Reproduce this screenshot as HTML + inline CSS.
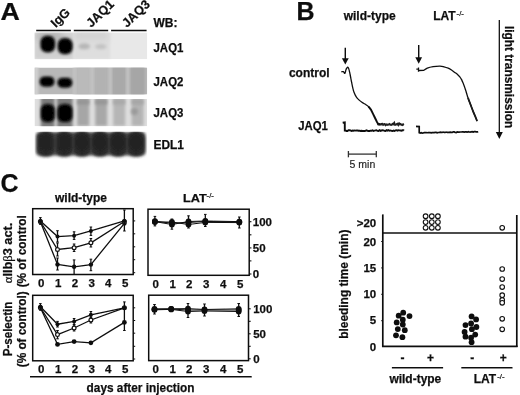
<!DOCTYPE html>
<html><head><meta charset="utf-8"><style>
html,body{margin:0;padding:0;background:#fff;}
svg{display:block;font-family:"Liberation Sans", sans-serif;will-change:transform;}
</style></head><body>
<svg width="520" height="395" viewBox="0 0 520 395">
<defs>
<filter id="bl1" x="-50%" y="-50%" width="200%" height="200%"><feGaussianBlur stdDeviation="1.6"/></filter>
<filter id="bl2" x="-50%" y="-50%" width="200%" height="200%"><feGaussianBlur stdDeviation="1.5"/></filter>
<filter id="soft" x="0" y="0" width="100%" height="100%" filterUnits="userSpaceOnUse"><feGaussianBlur stdDeviation="0.35"/></filter>
<filter id="bl3" x="-50%" y="-50%" width="200%" height="200%"><feGaussianBlur stdDeviation="3"/></filter>
<clipPath id="c1"><rect x="34.5" y="32.5" width="112.7" height="26.8"/></clipPath>
<clipPath id="c2"><rect x="34.5" y="67.5" width="112.7" height="27"/></clipPath>
<clipPath id="c3"><rect x="34.5" y="99" width="112.7" height="27.3"/></clipPath>
<clipPath id="c4"><rect x="34.5" y="131.7" width="112.7" height="27.5"/></clipPath>
</defs>
<rect width="520" height="395" fill="#fff"/>
<g filter="url(#soft)">
<text x="0" y="0" font-size="25" font-weight="bold" text-anchor="start" fill="#111" stroke="#111" stroke-width="0.25" transform="translate(0.6,19.6) scale(1.07,0.98)">A</text>
<text x="0" y="0" font-size="12.6" font-weight="bold" text-anchor="start" fill="#111" stroke="#111" stroke-width="0.25" transform="translate(55.8,28) rotate(-44)">IgG</text>
<text x="0" y="0" font-size="12.6" font-weight="bold" text-anchor="start" fill="#111" stroke="#111" stroke-width="0.25" transform="translate(91.2,28) rotate(-44)">JAQ1</text>
<text x="0" y="0" font-size="12.6" font-weight="bold" text-anchor="start" fill="#111" stroke="#111" stroke-width="0.25" transform="translate(127,28) rotate(-44)">JAQ3</text>
<line x1="36.2" y1="30.5" x2="70.9" y2="30.5" stroke="#111" stroke-width="1.3"/>
<line x1="73.8" y1="30.5" x2="108.2" y2="30.5" stroke="#111" stroke-width="1.3"/>
<line x1="111.1" y1="30.5" x2="146.6" y2="30.5" stroke="#111" stroke-width="1.3"/>
<g clip-path="url(#c1)">
<rect x="34.5" y="32.5" width="112.69999999999999" height="26.8" rx="0" fill="#e8e8e8" opacity="1"/>
<rect x="34.5" y="32.5" width="39" height="26.8" rx="0" fill="#d0d0d0" opacity="1" filter="url(#bl2)"/>
<rect x="74" y="32.5" width="36" height="26.8" rx="0" fill="#dedede" opacity="1" filter="url(#bl2)"/>
<rect x="74" y="31" width="34" height="9" rx="0" fill="#d2d2d2" opacity="1" filter="url(#bl3)"/>
<ellipse cx="50" cy="36" rx="14" ry="4" fill="#a8a8a8" opacity="0.8" filter="url(#bl3)"/>
<rect x="40.7" y="35.9" width="14.2" height="16.3" rx="6" fill="#111" opacity="1" filter="url(#bl1)"/>
<rect x="57.9" y="38.3" width="14.5" height="15.8" rx="6" fill="#111" opacity="1" filter="url(#bl1)"/>
<rect x="41.9" y="37.3" width="11.8" height="13.5" rx="5" fill="#000" opacity="1" filter="url(#bl2)"/>
<rect x="59.1" y="39.6" width="12" height="13.2" rx="5" fill="#000" opacity="1" filter="url(#bl2)"/>
<ellipse cx="84.2" cy="46.3" rx="6" ry="3" fill="#b6b6b6" opacity="1" filter="url(#bl2)"/>
<ellipse cx="100.8" cy="46.6" rx="5.8" ry="2.6" fill="#c2c2c2" opacity="1" filter="url(#bl2)"/>
</g>
<g clip-path="url(#c2)">
<rect x="34.5" y="67.5" width="112.69999999999999" height="27" rx="0" fill="#b8b8b8" opacity="1"/>
<rect x="34.5" y="64" width="3.5" height="34" rx="0" fill="#d6d6d6" opacity="1" filter="url(#bl2)"/>
<rect x="75.80000000000001" y="66" width="15.2" height="30" rx="0" fill="#bababa" opacity="1" filter="url(#bl2)"/>
<rect x="93.7" y="66" width="15.2" height="30" rx="0" fill="#b2b2b2" opacity="1" filter="url(#bl2)"/>
<rect x="111.4" y="66" width="15.2" height="30" rx="0" fill="#a9a9a9" opacity="1" filter="url(#bl2)"/>
<rect x="129.70000000000002" y="66" width="15.2" height="30" rx="0" fill="#a6a6a6" opacity="1" filter="url(#bl2)"/>
<rect x="73.39999999999999" y="66" width="2.4" height="30" rx="0" fill="#c8c8c8" opacity="1" filter="url(#bl2)"/>
<rect x="91.1" y="66" width="2.4" height="30" rx="0" fill="#c8c8c8" opacity="1" filter="url(#bl2)"/>
<rect x="109.1" y="66" width="2.4" height="30" rx="0" fill="#c8c8c8" opacity="1" filter="url(#bl2)"/>
<rect x="126.6" y="66" width="2.4" height="30" rx="0" fill="#c8c8c8" opacity="1" filter="url(#bl2)"/>
<rect x="39.8" y="76.8" width="14.4" height="9.6" rx="4.5" fill="#111" opacity="1" filter="url(#bl1)"/>
<rect x="57.6" y="78" width="14.5" height="9.4" rx="4.5" fill="#111" opacity="1" filter="url(#bl1)"/>
<rect x="41" y="78" width="12" height="7.2" rx="3.5" fill="#000" opacity="1" filter="url(#bl2)"/>
<rect x="58.8" y="79.2" width="12.1" height="7" rx="3.5" fill="#000" opacity="1" filter="url(#bl2)"/>
</g>
<g clip-path="url(#c3)">
<rect x="34.5" y="99" width="112.69999999999999" height="27.3" rx="0" fill="#dedede" opacity="1"/>
<rect x="40.8" y="97" width="13.8" height="31" rx="0" fill="#7c7c7c" opacity="1" filter="url(#bl2)"/>
<rect x="56.9" y="97" width="15.7" height="31" rx="0" fill="#7c7c7c" opacity="1" filter="url(#bl2)"/>
<rect x="77.2" y="98" width="12" height="28" rx="0" fill="#a6a6a6" opacity="1" filter="url(#bl2)"/>
<rect x="77.2" y="99.5" width="12" height="5" rx="0" fill="#949494" opacity="1" filter="url(#bl2)"/>
<rect x="95.2" y="98" width="12" height="28" rx="0" fill="#a8a8a8" opacity="1" filter="url(#bl2)"/>
<rect x="95.2" y="99.5" width="12" height="5" rx="0" fill="#969696" opacity="1" filter="url(#bl2)"/>
<rect x="113.2" y="98" width="12" height="28" rx="0" fill="#b6b6b6" opacity="1" filter="url(#bl2)"/>
<rect x="113.2" y="99.5" width="12" height="5" rx="0" fill="#a8a8a8" opacity="1" filter="url(#bl2)"/>
<rect x="131.6" y="98" width="12" height="28" rx="0" fill="#b4b4b4" opacity="1" filter="url(#bl2)"/>
<rect x="131.6" y="99.5" width="12" height="5" rx="0" fill="#a6a6a6" opacity="1" filter="url(#bl2)"/>
<ellipse cx="134.5" cy="111.5" rx="3.5" ry="3.5" fill="#9a9a9a" opacity="1" filter="url(#bl2)"/>
<rect x="41" y="104.2" width="13.6" height="17.8" rx="5.5" fill="#111" opacity="1" filter="url(#bl1)"/>
<rect x="57.6" y="104.2" width="14.6" height="17.8" rx="5.5" fill="#111" opacity="1" filter="url(#bl1)"/>
<rect x="42.2" y="105.6" width="11.2" height="15" rx="4.5" fill="#000" opacity="1" filter="url(#bl2)"/>
<rect x="58.8" y="105.6" width="12.2" height="15" rx="4.5" fill="#000" opacity="1" filter="url(#bl2)"/>
</g>
<g clip-path="url(#c4)">
<rect x="34.5" y="131.5" width="112.69999999999999" height="27" rx="0" fill="#fff" opacity="1"/>
<rect x="36" y="132" width="109.5" height="23.5" rx="4" fill="#4a4a4a" opacity="1" filter="url(#bl2)"/>
<rect x="37.4" y="131.6" width="16.8" height="25" rx="7" fill="#2c2c2c" opacity="1" filter="url(#bl2)"/>
<rect x="39.3" y="133.5" width="13" height="18" rx="5" fill="#222" opacity="1" filter="url(#bl2)"/>
<rect x="55.800000000000004" y="131.6" width="16.8" height="25" rx="7" fill="#2c2c2c" opacity="1" filter="url(#bl2)"/>
<rect x="57.7" y="133.5" width="13" height="18" rx="5" fill="#222" opacity="1" filter="url(#bl2)"/>
<rect x="73.6" y="131.6" width="16.8" height="25" rx="7" fill="#2c2c2c" opacity="1" filter="url(#bl2)"/>
<rect x="75.5" y="133.5" width="13" height="18" rx="5" fill="#222" opacity="1" filter="url(#bl2)"/>
<rect x="91.6" y="131.6" width="16.8" height="25" rx="7" fill="#2c2c2c" opacity="1" filter="url(#bl2)"/>
<rect x="93.5" y="133.5" width="13" height="18" rx="5" fill="#222" opacity="1" filter="url(#bl2)"/>
<rect x="109.6" y="131.6" width="16.8" height="25" rx="7" fill="#2c2c2c" opacity="1" filter="url(#bl2)"/>
<rect x="111.5" y="133.5" width="13" height="18" rx="5" fill="#222" opacity="1" filter="url(#bl2)"/>
<rect x="127.6" y="131.6" width="16.8" height="25" rx="7" fill="#2c2c2c" opacity="1" filter="url(#bl2)"/>
<rect x="129.5" y="133.5" width="13" height="18" rx="5" fill="#222" opacity="1" filter="url(#bl2)"/>
</g>
<text x="153.5" y="26.6" font-size="12" font-weight="bold" text-anchor="start" fill="#111" stroke="#111" stroke-width="0.25" >WB:</text>
<text x="153.5" y="51.5" font-size="12" font-weight="bold" text-anchor="start" fill="#111" stroke="#111" stroke-width="0.25" textLength="29.9" lengthAdjust="spacingAndGlyphs" >JAQ1</text>
<text x="153.5" y="86.2" font-size="12" font-weight="bold" text-anchor="start" fill="#111" stroke="#111" stroke-width="0.25" textLength="29.9" lengthAdjust="spacingAndGlyphs" >JAQ2</text>
<text x="153.5" y="117.2" font-size="12" font-weight="bold" text-anchor="start" fill="#111" stroke="#111" stroke-width="0.25" textLength="29.9" lengthAdjust="spacingAndGlyphs" >JAQ3</text>
<text x="153.5" y="149.1" font-size="12" font-weight="bold" text-anchor="start" fill="#111" stroke="#111" stroke-width="0.25" textLength="30.5" lengthAdjust="spacingAndGlyphs" >EDL1</text>
<text x="296.5" y="19.5" font-size="25" font-weight="bold" text-anchor="start" fill="#111" stroke="#111" stroke-width="0.25" >B</text>
<text x="343.7" y="20" font-size="12" font-weight="bold" text-anchor="start" fill="#111" stroke="#111" stroke-width="0.25" >wild-type</text>
<text x="433.2" y="20" font-size="12" font-weight="bold" text-anchor="start" fill="#111" stroke="#111" stroke-width="0.25" >LAT</text>
<text x="456.6" y="16.4" font-size="7.8" font-weight="normal" text-anchor="start" fill="#111" stroke="#111" stroke-width="0.2" >-/-</text>
<text x="288.9" y="76.9" font-size="12" font-weight="bold" text-anchor="start" fill="#111" stroke="#111" stroke-width="0.25" >control</text>
<text x="298.3" y="130" font-size="12" font-weight="bold" text-anchor="start" fill="#111" stroke="#111" stroke-width="0.25" textLength="29.6" lengthAdjust="spacingAndGlyphs" >JAQ1</text>
<line x1="499.3" y1="20" x2="499.3" y2="133" stroke="#111" stroke-width="1.3"/>
<polygon points="495.8,132 502.8,132 499.3,139" fill="#111"/>
<text x="0" y="0" font-size="12" font-weight="bold" text-anchor="start" fill="#111" stroke="#111" stroke-width="0.25" textLength="102.3" lengthAdjust="spacingAndGlyphs" transform="translate(504.8,25.9) rotate(90)">light transmission</text>
<line x1="345.3" y1="47.7" x2="345.3" y2="59.3" stroke="#111" stroke-width="1.4"/>
<polygon points="341.90000000000003,58.3 348.7,58.3 345.3,64.6" fill="#111"/>
<line x1="418.7" y1="45" x2="418.7" y2="58.3" stroke="#111" stroke-width="1.4"/>
<polygon points="415.3,57.3 422.09999999999997,57.3 418.7,63.7" fill="#111"/>
<path d="M341.30,71.80 C341.65,71.77 342.80,71.33 343.40,71.60 C344.00,71.87 344.47,73.73 344.90,73.40 C345.33,73.07 345.68,70.47 346.00,69.60 C346.32,68.73 346.53,68.62 346.80,68.20 C347.07,67.78 347.28,67.03 347.60,67.10 C347.92,67.17 348.32,67.53 348.70,68.60 C349.08,69.67 349.48,71.58 349.90,73.50 C350.32,75.42 350.77,77.90 351.20,80.10 C351.63,82.30 352.03,84.67 352.50,86.70 C352.97,88.73 353.40,90.65 354.00,92.30 C354.60,93.95 355.33,95.38 356.10,96.60 C356.87,97.82 357.63,98.65 358.60,99.60 C359.57,100.55 360.67,101.43 361.90,102.30 C363.13,103.17 364.90,104.08 366.00,104.80 C367.10,105.52 367.67,105.77 368.50,106.60 C369.33,107.43 370.58,109.27 371.00,109.80" fill="none" stroke="#111" stroke-width="1.3"/>
<path d="M377.5,123.9 L378.3,124.5 L379.1,124.2 L379.9,124.6 L380.7,124.6 L381.5,123.6 L382.3,123.5 L383.1,125.0 L383.9,124.0 L384.7,123.9 L385.5,125.3 L386.3,124.3 L387.1,125.0 L387.9,124.4 L388.7,124.7 L389.5,123.8 L390.3,124.6 L391.1,125.1 L391.9,124.4 L392.7,123.5 L393.5,123.4 L394.3,122.3 L395.1,124.9 L395.9,124.6 L396.7,124.0 L397.5,123.6 L398.3,125.1 L399.1,123.1 L399.9,123.5 L400.7,123.8 L401.5,124.8 L402.3,125.2 L403.1,124.2 L403.9,124.9" fill="none" stroke="#1a1a1a" stroke-width="1.5"/>
<path d="M377.5,124.6 L404,124.6" fill="none" stroke="#222" stroke-width="1.6"/>
<path d="M368.50,106.60 C368.92,107.13 370.18,108.45 371.00,109.80 C371.82,111.15 372.58,113.05 373.40,114.70 C374.22,116.35 375.17,118.27 375.90,119.70 C376.63,121.13 377.03,122.52 377.80,123.30 C378.57,124.08 380.05,124.22 380.50,124.40" fill="none" stroke="#111" stroke-width="1.9"/>
<path d="M342.7,122.7 L344.8,122.3 L344.8,130.6 L345.5,130.55 L346.5,130.99 L347.5,130.94 L348.5,130.24 L349.5,130.27 L350.5,130.35 L351.5,131.02 L352.5,130.54 L353.5,130.71 L354.5,130.42 L355.5,130.61 L356.5,130.50 L357.5,130.47 L358.5,130.68 L359.5,130.68 L360.5,130.96 L361.5,130.76 L362.5,130.99 L363.5,130.92 L364.5,131.04 L365.5,130.75 L366.5,130.30 L367.5,130.92 L368.5,131.02 L369.5,130.96 L370.5,130.66 L371.5,130.79 L372.5,130.34 L373.5,130.90 L374.5,130.67 L375.5,130.41 L376.5,130.21 L377.5,130.92 L378.5,131.04 L379.5,130.23 L380.5,130.87 L381.5,130.52 L382.5,130.29 L383.5,130.41 L384.5,130.84 L385.5,130.94 L386.5,130.19 L387.5,130.70 L388.5,130.19 L389.5,130.80 L390.5,130.45 L391.5,130.94 L392.5,131.03 L393.5,130.60 L394.5,131.05 L395.5,130.43 L396.5,130.22 L397.5,130.69 L398.5,130.18 L399.5,130.33 L400.5,130.52 L401.5,130.70 L402.5,130.29 L403.5,130.19 L403.9,130.6" fill="none" stroke="#111" stroke-width="1.9"/>
<path d="M416.3,69.2 L418.5,69.2 M418.5,67.4 L418.5,71.8 M418.5,70.5 L423.6,70.4 C424.22,70.02 425.72,68.73 427.30,68.10 C428.88,67.47 430.98,66.93 433.10,66.60 C435.22,66.27 438.18,66.07 440.00,66.10 C441.82,66.13 442.63,66.45 444.00,66.80 C445.37,67.15 446.95,67.67 448.20,68.20 C449.45,68.73 450.40,69.30 451.50,70.00 C452.60,70.70 453.80,71.67 454.80,72.40 C455.80,73.13 456.67,73.67 457.50,74.40 C458.33,75.13 459.12,75.93 459.80,76.80 C460.48,77.67 461.05,78.55 461.60,79.60 C462.15,80.65 462.45,81.42 463.10,83.10 C463.75,84.78 464.68,87.23 465.50,89.70 C466.32,92.17 467.17,95.43 468.00,97.90 C468.83,100.37 469.67,102.30 470.50,104.50 C471.33,106.70 472.18,109.05 473.00,111.10 C473.82,113.15 474.72,115.12 475.40,116.80 C476.08,118.48 476.82,120.47 477.10,121.20" fill="none" stroke="#111" stroke-width="1.3"/>
<path d="M416,126.4 L419.2,126.6 L419.2,132.7 L420.2,133.05 L421.2,132.64 L422.2,133.07 L423.2,133.01 L424.2,132.63 L425.2,132.67 L426.2,132.70 L427.2,132.77 L428.2,132.72 L429.2,132.68 L430.2,132.70 L431.2,132.91 L432.2,132.59 L433.2,132.52 L434.2,132.70 L435.2,132.35 L436.2,132.38 L437.2,132.83 L438.2,132.50 L439.2,132.50 L440.2,132.10 L441.2,132.37 L442.2,132.47 L443.2,132.06 L444.2,132.46 L445.2,132.45 L446.2,132.04 L447.2,132.42 L448.2,132.29 L449.2,132.42 L450.2,132.17 L451.2,132.40 L452.2,132.41 L453.2,131.89 L454.2,131.90 L455.2,132.31 L456.2,132.50 L457.2,131.98 L458.2,132.11 L459.2,132.19 L460.2,131.98 L461.2,131.99 L462.2,131.94 L463.2,131.96 L464.2,132.10 L465.2,131.88 L466.2,131.92 L467.2,132.18 L468.2,131.64 L469.2,132.00 L470.2,132.10 L471.2,131.78 L472.2,131.70 L473.2,132.09 L474.2,131.68 L475.2,131.63 L476.2,131.79 L477.2,131.95 L478.2,131.8" fill="none" stroke="#111" stroke-width="1.7"/>
<path d="M468.00,97.90 C468.42,99.00 469.67,102.30 470.50,104.50 C471.33,106.70 472.18,109.05 473.00,111.10 C473.82,113.15 474.72,115.15 475.40,116.80 C476.08,118.45 476.82,120.30 477.10,121.00" fill="none" stroke="#1a1a1a" stroke-width="1.8"/>
<line x1="348.4" y1="151" x2="348.4" y2="157.3" stroke="#333" stroke-width="1.3"/>
<line x1="376.3" y1="151" x2="376.3" y2="157.3" stroke="#333" stroke-width="1.3"/>
<line x1="348.4" y1="154.1" x2="376.3" y2="154.1" stroke="#333" stroke-width="1.3"/>
<text x="349.6" y="168.3" font-size="10.5" font-weight="normal" text-anchor="start" fill="#222" stroke="#222" stroke-width="0.15" >5 min</text>
<text x="0.5" y="191.5" font-size="25" font-weight="bold" text-anchor="start" fill="#111" stroke="#111" stroke-width="0.25" >C</text>
<text x="55" y="202.3" font-size="12" font-weight="bold" text-anchor="start" fill="#111" stroke="#111" stroke-width="0.25" >wild-type</text>
<text x="183.1" y="201.5" font-size="11.6" font-weight="bold" text-anchor="start" fill="#111" stroke="#111" stroke-width="0.25" textLength="23.8" lengthAdjust="spacingAndGlyphs" >LAT</text>
<text x="206.6" y="197.8" font-size="7.8" font-weight="normal" text-anchor="start" fill="#111" stroke="#111" stroke-width="0.2" >-/-</text>
<rect x="32.7" y="208.7" width="100.49999999999999" height="65.80000000000001" fill="none" stroke="#111" stroke-width="1.5"/>
<line x1="133.2" y1="220.9" x2="135.2" y2="220.9" stroke="#111" stroke-width="1.0"/>
<line x1="133.2" y1="233.8" x2="135.2" y2="233.8" stroke="#111" stroke-width="1.0"/>
<line x1="133.2" y1="246.8" x2="135.2" y2="246.8" stroke="#111" stroke-width="1.0"/>
<line x1="133.2" y1="259.7" x2="135.2" y2="259.7" stroke="#111" stroke-width="1.0"/>
<line x1="133.2" y1="272.7" x2="135.2" y2="272.7" stroke="#111" stroke-width="1.0"/>
<rect x="148" y="209.2" width="101.19999999999999" height="66.10000000000002" fill="none" stroke="#111" stroke-width="1.5"/>
<line x1="249.2" y1="221.7" x2="251.4" y2="221.7" stroke="#111" stroke-width="1.1"/>
<line x1="249.2" y1="234.8" x2="251.4" y2="234.8" stroke="#111" stroke-width="1.1"/>
<line x1="249.2" y1="247.9" x2="251.4" y2="247.9" stroke="#111" stroke-width="1.1"/>
<line x1="249.2" y1="260.9" x2="251.4" y2="260.9" stroke="#111" stroke-width="1.1"/>
<line x1="249.2" y1="274.0" x2="251.4" y2="274.0" stroke="#111" stroke-width="1.1"/>
<rect x="32.7" y="295.3" width="100.49999999999999" height="65.5" fill="none" stroke="#111" stroke-width="1.5"/>
<line x1="133.2" y1="307.8" x2="135.2" y2="307.8" stroke="#111" stroke-width="1.0"/>
<line x1="133.2" y1="320.5" x2="135.2" y2="320.5" stroke="#111" stroke-width="1.0"/>
<line x1="133.2" y1="333.2" x2="135.2" y2="333.2" stroke="#111" stroke-width="1.0"/>
<line x1="133.2" y1="346.3" x2="135.2" y2="346.3" stroke="#111" stroke-width="1.0"/>
<line x1="133.2" y1="359" x2="135.2" y2="359" stroke="#111" stroke-width="1.0"/>
<rect x="148.7" y="295.2" width="99.80000000000001" height="65.40000000000003" fill="none" stroke="#111" stroke-width="1.5"/>
<line x1="248.5" y1="308.8" x2="250.7" y2="308.8" stroke="#111" stroke-width="1.1"/>
<line x1="248.5" y1="321.3" x2="250.7" y2="321.3" stroke="#111" stroke-width="1.1"/>
<line x1="248.5" y1="333.8" x2="250.7" y2="333.8" stroke="#111" stroke-width="1.1"/>
<line x1="248.5" y1="346.3" x2="250.7" y2="346.3" stroke="#111" stroke-width="1.1"/>
<line x1="248.5" y1="358.8" x2="250.7" y2="358.8" stroke="#111" stroke-width="1.1"/>
<path d="M40.4,221.8 L57.5,264.5 L74.1,266.8 L90.9,264.6 L124.4,223.4" fill="none" stroke="#111" stroke-width="1.3"/>
<line x1="57.5" y1="258" x2="57.5" y2="270" stroke="#111" stroke-width="1.3"/>
<line x1="56.2" y1="258" x2="58.8" y2="258" stroke="#111" stroke-width="1.0"/>
<line x1="56.2" y1="270" x2="58.8" y2="270" stroke="#111" stroke-width="1.0"/>
<line x1="74.1" y1="259.9" x2="74.1" y2="274.5" stroke="#111" stroke-width="1.3"/>
<line x1="72.8" y1="259.9" x2="75.39999999999999" y2="259.9" stroke="#111" stroke-width="1.0"/>
<line x1="72.8" y1="274.5" x2="75.39999999999999" y2="274.5" stroke="#111" stroke-width="1.0"/>
<line x1="90.9" y1="259.2" x2="90.9" y2="270.7" stroke="#111" stroke-width="1.3"/>
<line x1="89.60000000000001" y1="259.2" x2="92.2" y2="259.2" stroke="#111" stroke-width="1.0"/>
<line x1="89.60000000000001" y1="270.7" x2="92.2" y2="270.7" stroke="#111" stroke-width="1.0"/>
<circle cx="40.4" cy="221.8" r="2.2" fill="#111"/>
<circle cx="57.5" cy="264.5" r="2.2" fill="#111"/>
<circle cx="74.1" cy="266.8" r="2.2" fill="#111"/>
<circle cx="90.9" cy="264.6" r="2.2" fill="#111"/>
<circle cx="124.4" cy="223.4" r="2.2" fill="#111"/>
<path d="M40.4,221.5 L57.5,249.5 L74.1,247.7 L90.9,242.8 L124.4,221.5" fill="none" stroke="#111" stroke-width="1.3"/>
<line x1="57.5" y1="243" x2="57.5" y2="256" stroke="#111" stroke-width="1.3"/>
<line x1="56.2" y1="243" x2="58.8" y2="243" stroke="#111" stroke-width="1.0"/>
<line x1="56.2" y1="256" x2="58.8" y2="256" stroke="#111" stroke-width="1.0"/>
<line x1="74.1" y1="244" x2="74.1" y2="251.5" stroke="#111" stroke-width="1.3"/>
<line x1="72.8" y1="244" x2="75.39999999999999" y2="244" stroke="#111" stroke-width="1.0"/>
<line x1="72.8" y1="251.5" x2="75.39999999999999" y2="251.5" stroke="#111" stroke-width="1.0"/>
<line x1="90.9" y1="238.5" x2="90.9" y2="247" stroke="#111" stroke-width="1.3"/>
<line x1="89.60000000000001" y1="238.5" x2="92.2" y2="238.5" stroke="#111" stroke-width="1.0"/>
<line x1="89.60000000000001" y1="247" x2="92.2" y2="247" stroke="#111" stroke-width="1.0"/>
<circle cx="40.4" cy="221.5" r="1.9" fill="#fff" stroke="#111" stroke-width="1.2"/>
<circle cx="57.5" cy="249.5" r="1.9" fill="#fff" stroke="#111" stroke-width="1.2"/>
<circle cx="74.1" cy="247.7" r="1.9" fill="#fff" stroke="#111" stroke-width="1.2"/>
<circle cx="90.9" cy="242.8" r="1.9" fill="#fff" stroke="#111" stroke-width="1.2"/>
<circle cx="124.4" cy="221.5" r="1.9" fill="#fff" stroke="#111" stroke-width="1.2"/>
<path d="M40.4,220.9 L57.5,236.6 L74.1,235.7 L90.9,230.9 L124.4,220.9" fill="none" stroke="#111" stroke-width="1.3"/>
<line x1="40.4" y1="217.6" x2="40.4" y2="224.4" stroke="#111" stroke-width="1.3"/>
<line x1="39.1" y1="217.6" x2="41.699999999999996" y2="217.6" stroke="#111" stroke-width="1.0"/>
<line x1="39.1" y1="224.4" x2="41.699999999999996" y2="224.4" stroke="#111" stroke-width="1.0"/>
<line x1="57.5" y1="230.7" x2="57.5" y2="242" stroke="#111" stroke-width="1.3"/>
<line x1="56.2" y1="230.7" x2="58.8" y2="230.7" stroke="#111" stroke-width="1.0"/>
<line x1="56.2" y1="242" x2="58.8" y2="242" stroke="#111" stroke-width="1.0"/>
<line x1="74.1" y1="231.8" x2="74.1" y2="239.4" stroke="#111" stroke-width="1.3"/>
<line x1="72.8" y1="231.8" x2="75.39999999999999" y2="231.8" stroke="#111" stroke-width="1.0"/>
<line x1="72.8" y1="239.4" x2="75.39999999999999" y2="239.4" stroke="#111" stroke-width="1.0"/>
<line x1="90.9" y1="227" x2="90.9" y2="235.4" stroke="#111" stroke-width="1.3"/>
<line x1="89.60000000000001" y1="227" x2="92.2" y2="227" stroke="#111" stroke-width="1.0"/>
<line x1="89.60000000000001" y1="235.4" x2="92.2" y2="235.4" stroke="#111" stroke-width="1.0"/>
<line x1="124.4" y1="210" x2="124.4" y2="231" stroke="#111" stroke-width="1.3"/>
<line x1="123.10000000000001" y1="210" x2="125.7" y2="210" stroke="#111" stroke-width="1.0"/>
<line x1="123.10000000000001" y1="231" x2="125.7" y2="231" stroke="#111" stroke-width="1.0"/>
<circle cx="40.4" cy="220.9" r="2.0" fill="#111"/>
<circle cx="57.5" cy="236.6" r="2.0" fill="#111"/>
<circle cx="74.1" cy="235.7" r="2.0" fill="#111"/>
<circle cx="90.9" cy="230.9" r="2.0" fill="#111"/>
<circle cx="124.4" cy="220.9" r="2.0" fill="#111"/>
<path d="M40.4,307.8 L57.5,344.4 L74.1,341.6 L90.9,342.8 L124.4,322.4" fill="none" stroke="#111" stroke-width="1.3"/>
<line x1="124.4" y1="301.9" x2="124.4" y2="330.5" stroke="#111" stroke-width="1.3"/>
<line x1="123.10000000000001" y1="301.9" x2="125.7" y2="301.9" stroke="#111" stroke-width="1.0"/>
<line x1="123.10000000000001" y1="330.5" x2="125.7" y2="330.5" stroke="#111" stroke-width="1.0"/>
<circle cx="40.4" cy="307.8" r="2.4" fill="#111"/>
<circle cx="57.5" cy="344.4" r="2.4" fill="#111"/>
<circle cx="74.1" cy="341.6" r="2.4" fill="#111"/>
<circle cx="90.9" cy="342.8" r="2.4" fill="#111"/>
<circle cx="124.4" cy="322.4" r="2.4" fill="#111"/>
<path d="M40.4,307.5 L57.5,334.6 L74.1,328 L90.9,320 L124.4,307.8" fill="none" stroke="#111" stroke-width="1.3"/>
<line x1="57.5" y1="330.5" x2="57.5" y2="338.8" stroke="#111" stroke-width="1.3"/>
<line x1="56.2" y1="330.5" x2="58.8" y2="330.5" stroke="#111" stroke-width="1.0"/>
<line x1="56.2" y1="338.8" x2="58.8" y2="338.8" stroke="#111" stroke-width="1.0"/>
<line x1="74.1" y1="325" x2="74.1" y2="331" stroke="#111" stroke-width="1.3"/>
<line x1="72.8" y1="325" x2="75.39999999999999" y2="325" stroke="#111" stroke-width="1.0"/>
<line x1="72.8" y1="331" x2="75.39999999999999" y2="331" stroke="#111" stroke-width="1.0"/>
<line x1="90.9" y1="317" x2="90.9" y2="323" stroke="#111" stroke-width="1.3"/>
<line x1="89.60000000000001" y1="317" x2="92.2" y2="317" stroke="#111" stroke-width="1.0"/>
<line x1="89.60000000000001" y1="323" x2="92.2" y2="323" stroke="#111" stroke-width="1.0"/>
<circle cx="40.4" cy="307.5" r="1.9" fill="#fff" stroke="#111" stroke-width="1.2"/>
<circle cx="57.5" cy="334.6" r="1.9" fill="#fff" stroke="#111" stroke-width="1.2"/>
<circle cx="74.1" cy="328" r="1.9" fill="#fff" stroke="#111" stroke-width="1.2"/>
<circle cx="90.9" cy="320" r="1.9" fill="#fff" stroke="#111" stroke-width="1.2"/>
<circle cx="124.4" cy="307.8" r="1.9" fill="#fff" stroke="#111" stroke-width="1.2"/>
<path d="M40.4,306.8 L57.5,324.2 L74.1,321.4 L90.9,314.8 L124.4,307.8" fill="none" stroke="#111" stroke-width="1.3"/>
<line x1="40.4" y1="303.6" x2="40.4" y2="310.3" stroke="#111" stroke-width="1.3"/>
<line x1="39.1" y1="303.6" x2="41.699999999999996" y2="303.6" stroke="#111" stroke-width="1.0"/>
<line x1="39.1" y1="310.3" x2="41.699999999999996" y2="310.3" stroke="#111" stroke-width="1.0"/>
<line x1="57.5" y1="321.4" x2="57.5" y2="327" stroke="#111" stroke-width="1.3"/>
<line x1="56.2" y1="321.4" x2="58.8" y2="321.4" stroke="#111" stroke-width="1.0"/>
<line x1="56.2" y1="327" x2="58.8" y2="327" stroke="#111" stroke-width="1.0"/>
<line x1="74.1" y1="318.5" x2="74.1" y2="324.5" stroke="#111" stroke-width="1.3"/>
<line x1="72.8" y1="318.5" x2="75.39999999999999" y2="318.5" stroke="#111" stroke-width="1.0"/>
<line x1="72.8" y1="324.5" x2="75.39999999999999" y2="324.5" stroke="#111" stroke-width="1.0"/>
<line x1="90.9" y1="311.5" x2="90.9" y2="318" stroke="#111" stroke-width="1.3"/>
<line x1="89.60000000000001" y1="311.5" x2="92.2" y2="311.5" stroke="#111" stroke-width="1.0"/>
<line x1="89.60000000000001" y1="318" x2="92.2" y2="318" stroke="#111" stroke-width="1.0"/>
<circle cx="40.4" cy="306.8" r="2.0" fill="#111"/>
<circle cx="57.5" cy="324.2" r="2.0" fill="#111"/>
<circle cx="74.1" cy="321.4" r="2.0" fill="#111"/>
<circle cx="90.9" cy="314.8" r="2.0" fill="#111"/>
<circle cx="124.4" cy="307.8" r="2.0" fill="#111"/>
<path d="M154.9,221.2 L171.9,223.2 L188.5,222.5 L205.3,221.4 L239.3,222.1" fill="none" stroke="#111" stroke-width="1.0"/>
<line x1="154.9" y1="216.4" x2="154.9" y2="225.9" stroke="#111" stroke-width="1.3"/>
<line x1="153.6" y1="216.4" x2="156.20000000000002" y2="216.4" stroke="#111" stroke-width="1.0"/>
<line x1="153.6" y1="225.9" x2="156.20000000000002" y2="225.9" stroke="#111" stroke-width="1.0"/>
<line x1="171.9" y1="219" x2="171.9" y2="229.2" stroke="#111" stroke-width="1.3"/>
<line x1="170.6" y1="219" x2="173.20000000000002" y2="219" stroke="#111" stroke-width="1.0"/>
<line x1="170.6" y1="229.2" x2="173.20000000000002" y2="229.2" stroke="#111" stroke-width="1.0"/>
<line x1="188.5" y1="215.8" x2="188.5" y2="228" stroke="#111" stroke-width="1.3"/>
<line x1="187.2" y1="215.8" x2="189.8" y2="215.8" stroke="#111" stroke-width="1.0"/>
<line x1="187.2" y1="228" x2="189.8" y2="228" stroke="#111" stroke-width="1.0"/>
<line x1="205.3" y1="214.4" x2="205.3" y2="226.5" stroke="#111" stroke-width="1.3"/>
<line x1="204.0" y1="214.4" x2="206.60000000000002" y2="214.4" stroke="#111" stroke-width="1.0"/>
<line x1="204.0" y1="226.5" x2="206.60000000000002" y2="226.5" stroke="#111" stroke-width="1.0"/>
<line x1="239.3" y1="217" x2="239.3" y2="228" stroke="#111" stroke-width="1.3"/>
<line x1="238.0" y1="217" x2="240.60000000000002" y2="217" stroke="#111" stroke-width="1.0"/>
<line x1="238.0" y1="228" x2="240.60000000000002" y2="228" stroke="#111" stroke-width="1.0"/>
<circle cx="154.9" cy="221.2" r="2.9" fill="#111"/>
<circle cx="171.9" cy="223.2" r="2.9" fill="#111"/>
<circle cx="188.5" cy="222.5" r="2.9" fill="#111"/>
<circle cx="205.3" cy="221.4" r="2.9" fill="#111"/>
<circle cx="239.3" cy="222.1" r="2.9" fill="#111"/>
<path d="M154.9,222.0 L171.9,222.0 L188.5,224.5 L205.3,222.4 L239.3,222.6" fill="none" stroke="#111" stroke-width="1.0"/>
<circle cx="154.9" cy="222.0" r="2.9" fill="#111"/>
<circle cx="171.9" cy="222.0" r="2.9" fill="#111"/>
<circle cx="188.5" cy="224.5" r="2.9" fill="#111"/>
<circle cx="205.3" cy="222.4" r="2.9" fill="#111"/>
<circle cx="239.3" cy="222.6" r="2.9" fill="#111"/>
<path d="M154.9,221.6 L171.9,224.5 L188.5,221.5 L205.3,221.0 L239.3,221.6" fill="none" stroke="#111" stroke-width="1.0"/>
<circle cx="154.9" cy="221.6" r="2.9" fill="#111"/>
<circle cx="171.9" cy="224.5" r="2.9" fill="#111"/>
<circle cx="188.5" cy="221.5" r="2.9" fill="#111"/>
<circle cx="205.3" cy="221.0" r="2.9" fill="#111"/>
<circle cx="239.3" cy="221.6" r="2.9" fill="#111"/>
<path d="M154.5,309.3 L171.20000000000002,309 L188.0,310 L204.5,310 L238.70000000000002,310" fill="none" stroke="#111" stroke-width="1.0"/>
<line x1="154.5" y1="304.5" x2="154.5" y2="314" stroke="#111" stroke-width="1.3"/>
<line x1="153.2" y1="304.5" x2="155.8" y2="304.5" stroke="#111" stroke-width="1.0"/>
<line x1="153.2" y1="314" x2="155.8" y2="314" stroke="#111" stroke-width="1.0"/>
<line x1="188.0" y1="303.5" x2="188.0" y2="317.5" stroke="#111" stroke-width="1.3"/>
<line x1="186.7" y1="303.5" x2="189.3" y2="303.5" stroke="#111" stroke-width="1.0"/>
<line x1="186.7" y1="317.5" x2="189.3" y2="317.5" stroke="#111" stroke-width="1.0"/>
<line x1="204.5" y1="304" x2="204.5" y2="316" stroke="#111" stroke-width="1.3"/>
<line x1="203.2" y1="304" x2="205.8" y2="304" stroke="#111" stroke-width="1.0"/>
<line x1="203.2" y1="316" x2="205.8" y2="316" stroke="#111" stroke-width="1.0"/>
<line x1="238.70000000000002" y1="303.5" x2="238.70000000000002" y2="316.5" stroke="#111" stroke-width="1.3"/>
<line x1="237.4" y1="303.5" x2="240.00000000000003" y2="303.5" stroke="#111" stroke-width="1.0"/>
<line x1="237.4" y1="316.5" x2="240.00000000000003" y2="316.5" stroke="#111" stroke-width="1.0"/>
<circle cx="154.5" cy="309.3" r="2.9" fill="#111"/>
<circle cx="171.20000000000002" cy="309" r="2.9" fill="#111"/>
<circle cx="188.0" cy="310" r="2.9" fill="#111"/>
<circle cx="204.5" cy="310" r="2.9" fill="#111"/>
<circle cx="238.70000000000002" cy="310" r="2.9" fill="#111"/>
<path d="M154.5,309.8 L171.20000000000002,309.4 L188.0,311.5 L204.5,311 L238.70000000000002,311.5" fill="none" stroke="#111" stroke-width="1.0"/>
<circle cx="154.5" cy="309.8" r="2.9" fill="#111"/>
<circle cx="171.20000000000002" cy="309.4" r="2.9" fill="#111"/>
<circle cx="188.0" cy="311.5" r="2.9" fill="#111"/>
<circle cx="204.5" cy="311" r="2.9" fill="#111"/>
<circle cx="238.70000000000002" cy="311.5" r="2.9" fill="#111"/>
<path d="M154.5,308.9 L171.20000000000002,308.8 L188.0,308.6 L204.5,309.5 L238.70000000000002,308.8" fill="none" stroke="#111" stroke-width="1.0"/>
<circle cx="154.5" cy="308.9" r="2.9" fill="#111"/>
<circle cx="171.20000000000002" cy="308.8" r="2.9" fill="#111"/>
<circle cx="188.0" cy="308.6" r="2.9" fill="#111"/>
<circle cx="204.5" cy="309.5" r="2.9" fill="#111"/>
<circle cx="238.70000000000002" cy="308.8" r="2.9" fill="#111"/>
<text x="41.199999999999996" y="287.3" font-size="11.5" font-weight="bold" text-anchor="middle" fill="#111" stroke="#111" stroke-width="0.25" >0</text>
<text x="155.70000000000002" y="287.8" font-size="11.5" font-weight="bold" text-anchor="middle" fill="#111" stroke="#111" stroke-width="0.25" >0</text>
<text x="41.199999999999996" y="373" font-size="11.5" font-weight="bold" text-anchor="middle" fill="#111" stroke="#111" stroke-width="0.25" >0</text>
<text x="155.70000000000002" y="373" font-size="11.5" font-weight="bold" text-anchor="middle" fill="#111" stroke="#111" stroke-width="0.25" >0</text>
<text x="58.3" y="287.3" font-size="11.5" font-weight="bold" text-anchor="middle" fill="#111" stroke="#111" stroke-width="0.25" >1</text>
<text x="172.70000000000002" y="287.8" font-size="11.5" font-weight="bold" text-anchor="middle" fill="#111" stroke="#111" stroke-width="0.25" >1</text>
<text x="58.3" y="373" font-size="11.5" font-weight="bold" text-anchor="middle" fill="#111" stroke="#111" stroke-width="0.25" >1</text>
<text x="172.70000000000002" y="373" font-size="11.5" font-weight="bold" text-anchor="middle" fill="#111" stroke="#111" stroke-width="0.25" >1</text>
<text x="74.89999999999999" y="287.3" font-size="11.5" font-weight="bold" text-anchor="middle" fill="#111" stroke="#111" stroke-width="0.25" >2</text>
<text x="189.3" y="287.8" font-size="11.5" font-weight="bold" text-anchor="middle" fill="#111" stroke="#111" stroke-width="0.25" >2</text>
<text x="74.89999999999999" y="373" font-size="11.5" font-weight="bold" text-anchor="middle" fill="#111" stroke="#111" stroke-width="0.25" >2</text>
<text x="189.3" y="373" font-size="11.5" font-weight="bold" text-anchor="middle" fill="#111" stroke="#111" stroke-width="0.25" >2</text>
<text x="91.7" y="287.3" font-size="11.5" font-weight="bold" text-anchor="middle" fill="#111" stroke="#111" stroke-width="0.25" >3</text>
<text x="206.10000000000002" y="287.8" font-size="11.5" font-weight="bold" text-anchor="middle" fill="#111" stroke="#111" stroke-width="0.25" >3</text>
<text x="91.7" y="373" font-size="11.5" font-weight="bold" text-anchor="middle" fill="#111" stroke="#111" stroke-width="0.25" >3</text>
<text x="206.10000000000002" y="373" font-size="11.5" font-weight="bold" text-anchor="middle" fill="#111" stroke="#111" stroke-width="0.25" >3</text>
<text x="108.3" y="287.3" font-size="11.5" font-weight="bold" text-anchor="middle" fill="#111" stroke="#111" stroke-width="0.25" >4</text>
<text x="223.10000000000002" y="287.8" font-size="11.5" font-weight="bold" text-anchor="middle" fill="#111" stroke="#111" stroke-width="0.25" >4</text>
<text x="108.3" y="373" font-size="11.5" font-weight="bold" text-anchor="middle" fill="#111" stroke="#111" stroke-width="0.25" >4</text>
<text x="223.10000000000002" y="373" font-size="11.5" font-weight="bold" text-anchor="middle" fill="#111" stroke="#111" stroke-width="0.25" >4</text>
<text x="125.2" y="287.3" font-size="11.5" font-weight="bold" text-anchor="middle" fill="#111" stroke="#111" stroke-width="0.25" >5</text>
<text x="240.10000000000002" y="287.8" font-size="11.5" font-weight="bold" text-anchor="middle" fill="#111" stroke="#111" stroke-width="0.25" >5</text>
<text x="125.2" y="373" font-size="11.5" font-weight="bold" text-anchor="middle" fill="#111" stroke="#111" stroke-width="0.25" >5</text>
<text x="240.10000000000002" y="373" font-size="11.5" font-weight="bold" text-anchor="middle" fill="#111" stroke="#111" stroke-width="0.25" >5</text>
<text x="252.8" y="226.2" font-size="11.5" font-weight="bold" text-anchor="start" fill="#111" stroke="#111" stroke-width="0.25" >100</text>
<text x="252.8" y="251.8" font-size="11.5" font-weight="bold" text-anchor="start" fill="#111" stroke="#111" stroke-width="0.25" >50</text>
<text x="252.8" y="278.3" font-size="11.5" font-weight="bold" text-anchor="start" fill="#111" stroke="#111" stroke-width="0.25" >0</text>
<text x="253.2" y="313.2" font-size="11.5" font-weight="bold" text-anchor="start" fill="#111" stroke="#111" stroke-width="0.25" >100</text>
<text x="253.2" y="338.2" font-size="11.5" font-weight="bold" text-anchor="start" fill="#111" stroke="#111" stroke-width="0.25" >50</text>
<text x="253.2" y="363.2" font-size="11.5" font-weight="bold" text-anchor="start" fill="#111" stroke="#111" stroke-width="0.25" >0</text>
<line x1="30" y1="376.8" x2="251.7" y2="376.8" stroke="#111" stroke-width="1.4"/>
<text x="86.6" y="391.5" font-size="12" font-weight="bold" text-anchor="start" fill="#111" stroke="#111" stroke-width="0.25" textLength="107.8" lengthAdjust="spacingAndGlyphs" >days after injection</text>
<text x="0" y="0" font-size="12" font-weight="bold" text-anchor="start" fill="#111" stroke="#111" stroke-width="0.25" textLength="60.5" lengthAdjust="spacingAndGlyphs" transform="translate(12.3,283.2) rotate(-90)"><tspan font-family="Liberation Serif" font-weight="normal">α</tspan>IIb<tspan font-family="Liberation Serif" font-weight="normal">β</tspan>3 act.</text>
<text x="0" y="0" font-size="12" font-weight="bold" text-anchor="start" fill="#111" stroke="#111" stroke-width="0.25" textLength="72" lengthAdjust="spacingAndGlyphs" transform="translate(25.5,287.3) rotate(-90)">(% of control</text>
<text x="0" y="0" font-size="12" font-weight="bold" text-anchor="start" fill="#111" stroke="#111" stroke-width="0.25" textLength="54.5" lengthAdjust="spacingAndGlyphs" transform="translate(11.6,356.2) rotate(-90)">P-selectin</text>
<text x="0" y="0" font-size="12" font-weight="bold" text-anchor="start" fill="#111" stroke="#111" stroke-width="0.25" textLength="76" lengthAdjust="spacingAndGlyphs" transform="translate(25.5,367.3) rotate(-90)">(% of control)</text>
<line x1="382.8" y1="214.4" x2="382.8" y2="347" stroke="#111" stroke-width="1.7"/>
<line x1="382" y1="346.3" x2="517.6" y2="346.3" stroke="#111" stroke-width="1.7"/>
<line x1="516.8" y1="215" x2="516.8" y2="347" stroke="#111" stroke-width="1.7"/>
<line x1="382.8" y1="233" x2="516.8" y2="233" stroke="#111" stroke-width="1.6"/>
<text x="376.2" y="227.3" font-size="11.5" font-weight="bold" text-anchor="end" fill="#111" stroke="#111" stroke-width="0.25" >&gt;20</text>
<text x="376.2" y="245.6" font-size="11.5" font-weight="bold" text-anchor="end" fill="#111" stroke="#111" stroke-width="0.25" >20</text>
<text x="376.2" y="271.9" font-size="11.5" font-weight="bold" text-anchor="end" fill="#111" stroke="#111" stroke-width="0.25" >15</text>
<text x="376.2" y="298.3" font-size="11.5" font-weight="bold" text-anchor="end" fill="#111" stroke="#111" stroke-width="0.25" >10</text>
<text x="376.2" y="324.1" font-size="11.5" font-weight="bold" text-anchor="end" fill="#111" stroke="#111" stroke-width="0.25" >5</text>
<text x="376.2" y="350.6" font-size="11.5" font-weight="bold" text-anchor="end" fill="#111" stroke="#111" stroke-width="0.25" >0</text>
<line x1="381.2" y1="241.5" x2="382.8" y2="241.5" stroke="#111" stroke-width="1.0"/>
<line x1="381.2" y1="267.9" x2="382.8" y2="267.9" stroke="#111" stroke-width="1.0"/>
<line x1="381.2" y1="294.3" x2="382.8" y2="294.3" stroke="#111" stroke-width="1.0"/>
<line x1="381.2" y1="320.7" x2="382.8" y2="320.7" stroke="#111" stroke-width="1.0"/>
<text x="0" y="0" font-size="12" font-weight="bold" text-anchor="start" fill="#111" stroke="#111" stroke-width="0.25" textLength="109.2" lengthAdjust="spacingAndGlyphs" transform="translate(347.6,338.8) rotate(-90)">bleeding time (min)</text>
<circle cx="403.2" cy="312.7" r="2.9" fill="#111"/>
<circle cx="398.7" cy="315.7" r="2.9" fill="#111"/>
<circle cx="409.5" cy="316.1" r="2.9" fill="#111"/>
<circle cx="402.8" cy="319.7" r="2.9" fill="#111"/>
<circle cx="396.7" cy="322.4" r="2.9" fill="#111"/>
<circle cx="402.8" cy="324.5" r="2.9" fill="#111"/>
<circle cx="397.8" cy="329.1" r="2.9" fill="#111"/>
<circle cx="404.8" cy="330.2" r="2.9" fill="#111"/>
<circle cx="396" cy="335.3" r="2.9" fill="#111"/>
<circle cx="402.4" cy="337.2" r="2.9" fill="#111"/>
<circle cx="471.6" cy="316.4" r="2.9" fill="#111"/>
<circle cx="476.1" cy="319.4" r="2.9" fill="#111"/>
<circle cx="471.1" cy="323.5" r="2.9" fill="#111"/>
<circle cx="465.5" cy="325.1" r="2.9" fill="#111"/>
<circle cx="476.4" cy="327" r="2.9" fill="#111"/>
<circle cx="471.9" cy="329.2" r="2.9" fill="#111"/>
<circle cx="464.6" cy="331.9" r="2.9" fill="#111"/>
<circle cx="475.2" cy="334.6" r="2.9" fill="#111"/>
<circle cx="465.5" cy="336.7" r="2.9" fill="#111"/>
<circle cx="471.1" cy="337.7" r="2.9" fill="#111"/>
<circle cx="471.6" cy="342.2" r="2.9" fill="#111"/>
<circle cx="425.6" cy="216.2" r="2.35" fill="#fff" stroke="#111" stroke-width="1.1"/>
<circle cx="425.6" cy="222.1" r="2.35" fill="#fff" stroke="#111" stroke-width="1.1"/>
<circle cx="425.6" cy="227.8" r="2.35" fill="#fff" stroke="#111" stroke-width="1.1"/>
<circle cx="431.8" cy="216.2" r="2.35" fill="#fff" stroke="#111" stroke-width="1.1"/>
<circle cx="431.8" cy="222.1" r="2.35" fill="#fff" stroke="#111" stroke-width="1.1"/>
<circle cx="431.8" cy="227.8" r="2.35" fill="#fff" stroke="#111" stroke-width="1.1"/>
<circle cx="437.9" cy="216.2" r="2.35" fill="#fff" stroke="#111" stroke-width="1.1"/>
<circle cx="437.9" cy="222.1" r="2.35" fill="#fff" stroke="#111" stroke-width="1.1"/>
<circle cx="437.9" cy="227.8" r="2.35" fill="#fff" stroke="#111" stroke-width="1.1"/>
<circle cx="502.2" cy="227.8" r="2.3" fill="#fff" stroke="#111" stroke-width="1.1"/>
<circle cx="502.2" cy="269" r="2.3" fill="#fff" stroke="#111" stroke-width="1.1"/>
<circle cx="502.2" cy="279.1" r="2.3" fill="#fff" stroke="#111" stroke-width="1.1"/>
<circle cx="502.2" cy="287.1" r="2.3" fill="#fff" stroke="#111" stroke-width="1.1"/>
<circle cx="502.2" cy="295.2" r="2.3" fill="#fff" stroke="#111" stroke-width="1.1"/>
<circle cx="502.2" cy="300" r="2.3" fill="#fff" stroke="#111" stroke-width="1.1"/>
<circle cx="502.2" cy="302.8" r="2.3" fill="#fff" stroke="#111" stroke-width="1.1"/>
<circle cx="502.2" cy="318.8" r="2.3" fill="#fff" stroke="#111" stroke-width="1.1"/>
<circle cx="502.2" cy="329.3" r="2.3" fill="#fff" stroke="#111" stroke-width="1.1"/>
<text x="402.5" y="362" font-size="12" font-weight="bold" text-anchor="middle" fill="#111" stroke="#111" stroke-width="0.25" >-</text>
<text x="430.6" y="362" font-size="12" font-weight="bold" text-anchor="middle" fill="#111" stroke="#111" stroke-width="0.25" >+</text>
<text x="472.2" y="362" font-size="12" font-weight="bold" text-anchor="middle" fill="#111" stroke="#111" stroke-width="0.25" >-</text>
<text x="503.3" y="362" font-size="12" font-weight="bold" text-anchor="middle" fill="#111" stroke="#111" stroke-width="0.25" >+</text>
<line x1="391.9" y1="367.8" x2="443.1" y2="367.8" stroke="#111" stroke-width="1.5"/>
<line x1="461.3" y1="367.8" x2="512.5" y2="367.8" stroke="#111" stroke-width="1.5"/>
<text x="389.4" y="382.5" font-size="12" font-weight="bold" text-anchor="start" fill="#111" stroke="#111" stroke-width="0.25" textLength="51.9" lengthAdjust="spacingAndGlyphs" >wild-type</text>
<text x="473.7" y="382.7" font-size="12" font-weight="bold" text-anchor="start" fill="#111" stroke="#111" stroke-width="0.25" >LAT</text>
<text x="497.2" y="378.9" font-size="7.8" font-weight="normal" text-anchor="start" fill="#111" stroke="#111" stroke-width="0.2" >-/-</text>
</g>
</svg>
</body></html>
